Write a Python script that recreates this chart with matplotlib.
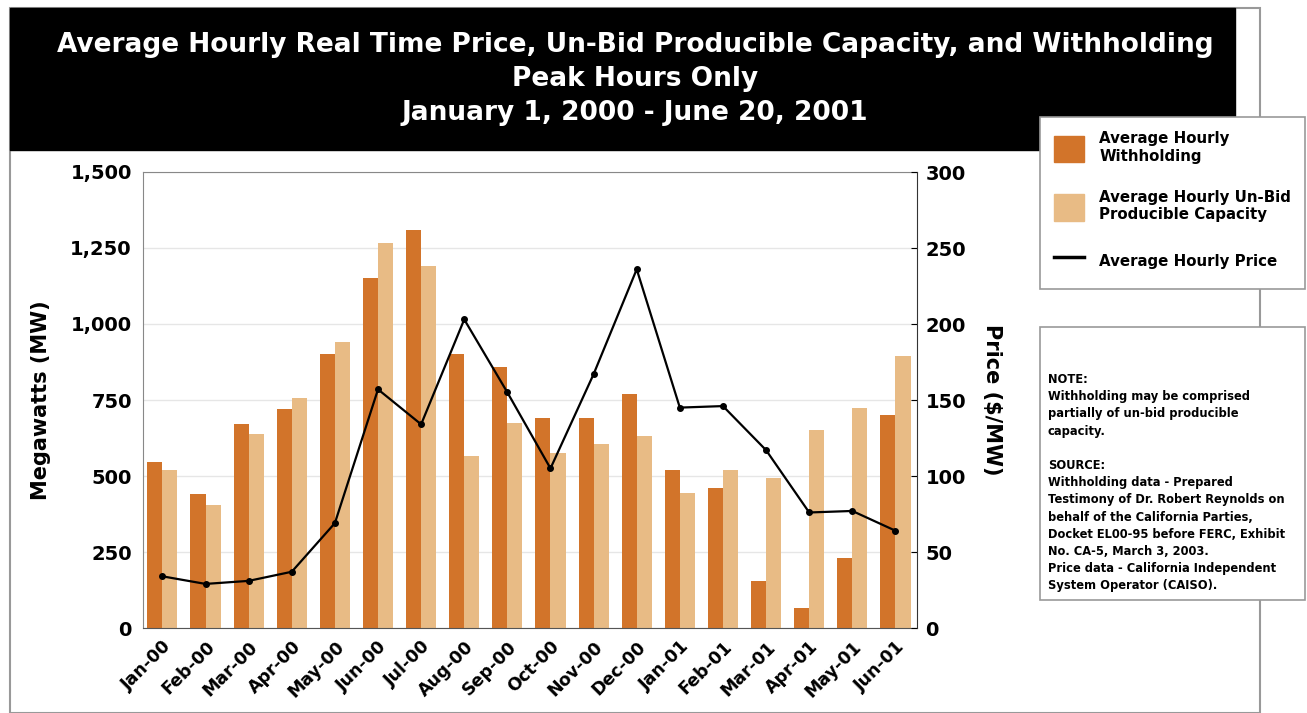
import matplotlib
matplotlib.use("Agg")
from matplotlib import pyplot as plt
from matplotlib.patches import Patch, Rectangle
from matplotlib.lines import Line2D
from matplotlib.ticker import FuncFormatter
import numpy as np

months = ["Jan-00", "Feb-00", "Mar-00", "Apr-00", "May-00", "Jun-00", "Jul-00", "Aug-00", "Sep-00",
          "Oct-00", "Nov-00", "Dec-00", "Jan-01", "Feb-01", "Mar-01", "Apr-01", "May-01", "Jun-01"]
withholding = [545, 440, 670, 720, 900, 1150, 1310, 900, 860, 690, 690, 770, 520, 460, 155, 65, 230, 700]
unbid = [520, 405, 638, 757, 940, 1265, 1190, 565, 675, 575, 605, 630, 445, 520, 495, 650, 725, 895]
price = [34, 29, 31, 37, 69, 157, 134, 203, 155, 105, 167, 236, 145, 146, 117, 76, 77, 64]

dark = "#D2742A"
light = "#E8BB85"

plt.rcParams['font.family'] = ['DejaVu Sans']
W, H = 1307, 713
fig = plt.figure(figsize=(W / 100, H / 100), dpi=100)

# outer frame and black title banner
fig.patches.append(Rectangle((10 / W, 0), 1250 / W, 1 - 8 / H, transform=fig.transFigure,
                             fill=False, ec="#999999", lw=1.5, zorder=0))
fig.patches.append(Rectangle((10 / W, 1 - 150 / H), 1225 / W, 142 / H, transform=fig.transFigure,
                             fc="black", ec="black", zorder=1))
titles = ["Average Hourly Real Time Price, Un-Bid Producible Capacity, and Withholding",
          "Peak Hours Only", "January 1, 2000 - June 20, 2001"]
for i, t in enumerate(titles):
    fig.text(635 / W, 1 - (45 + 34 * i) / H, t, color="white", fontsize=19, fontweight="bold",
             ha="center", va="center", zorder=2)

ax = fig.add_axes([143 / W, (H - 628) / H, (917 - 143) / W, (628 - 172) / H])
x = np.arange(len(months))
bw = 0.35
ax.bar(x - bw / 2, withholding, bw, color=dark, zorder=2)
ax.bar(x + bw / 2, unbid, bw, color=light, zorder=2)
ax.set_ylim(0, 1500)
ax.set_xlim(-0.45, 17.5)
ax.set_yticks(range(0, 1501, 250))
ax.yaxis.set_major_formatter(FuncFormatter(lambda v, p: f"{int(v):,}"))
ax.grid(axis="y", color="#e6e6e6", lw=1, zorder=0)
ax.set_xticks(x)
ax.set_xticklabels(months, rotation=45, ha="right", rotation_mode="anchor")
ax.tick_params(axis="x", length=0, pad=7)
ax.tick_params(axis="y", length=0, pad=8)
for lab in ax.get_xticklabels():
    lab.set_fontweight("bold")
    lab.set_fontsize(12.5)
for lab in ax.get_yticklabels():
    lab.set_fontweight("bold")
    lab.set_fontsize(14)
for s in ["top", "left"]:
    ax.spines[s].set_color("#888888")
ax.spines["bottom"].set_color("#555555")
ax.spines["right"].set_visible(False)
ax.set_ylabel("Megawatts (MW)", fontsize=15, fontweight="bold", labelpad=14)

ax2 = ax.twinx()
ax2.plot(x, price, color="black", lw=1.6, marker="o", ms=4, zorder=3)
ax2.set_ylim(0, 300)
ax2.set_yticks(range(0, 301, 50))
ax2.tick_params(axis="y", length=4, pad=6, direction="in")
for lab in ax2.get_yticklabels():
    lab.set_fontweight("bold")
    lab.set_fontsize(14)
for s in ["top", "left", "bottom"]:
    ax2.spines[s].set_visible(False)
ax2.spines["right"].set_color("#333333")
ax2.set_ylabel("Price ($/MW)", fontsize=15, fontweight="bold", rotation=-90, labelpad=26)

# legend
handles = [Patch(color=dark), Patch(color=light), Line2D([0], [0], color="black", lw=2.5)]
labels = ["Average Hourly\nWithholding", "Average Hourly Un-Bid\nProducible Capacity",
          "Average Hourly Price"]
leg = fig.legend(handles, labels, loc="upper left", bbox_to_anchor=(1040 / W, 1 - 117 / H),
                 borderaxespad=0, frameon=True, fancybox=False, edgecolor="#999999", framealpha=1,
                 prop={"weight": "bold", "size": 10.8}, handlelength=2.0, handleheight=2.3,
                 labelspacing=1.75, borderpad=0.95, handletextpad=1.0)
leg.get_frame().set_linewidth(1.2)

# note box
fig.patches.append(Rectangle((1040 / W, 1 - 600 / H), 265 / W, 273 / H, transform=fig.transFigure,
                             fc="white", ec="#999999", lw=1.2, zorder=3))
note = ("NOTE:\nWithholding may be comprised\npartially of un-bid producible\ncapacity.\n\n"
        "SOURCE:\nWithholding data - Prepared\nTestimony of Dr. Robert Reynolds on\n"
        "behalf of the California Parties,\nDocket EL00-95 before FERC, Exhibit\n"
        "No. CA-5, March 3, 2003.\nPrice data - California Independent\nSystem Operator (CAISO).")
fig.text(1048 / W, 1 - 373 / H, note, fontsize=8.3, fontweight="bold", ha="left", va="top",
         linespacing=1.42, zorder=4)

fig.savefig("out.png", dpi=100)
